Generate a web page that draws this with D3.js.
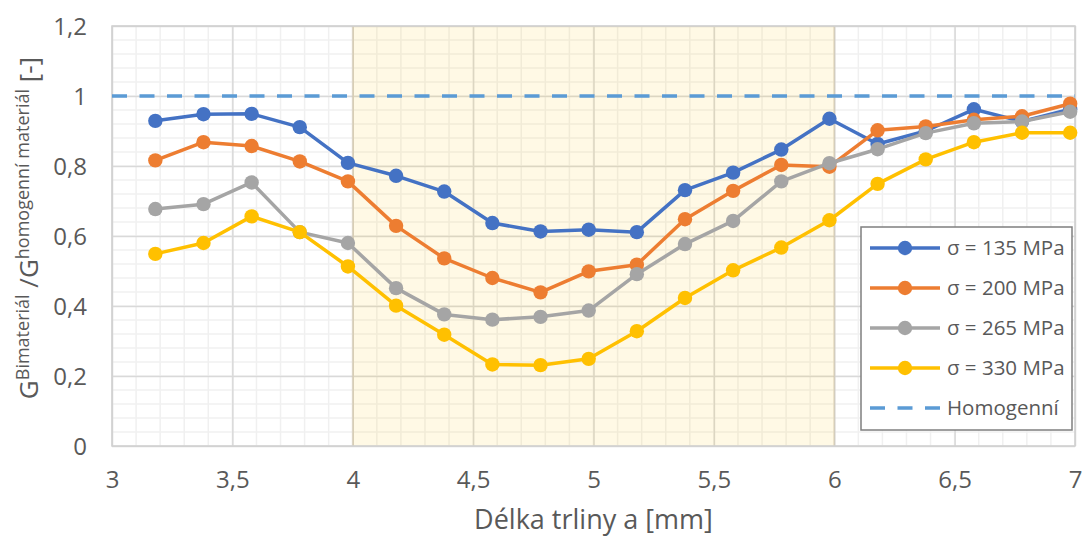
<!DOCTYPE html>
<html>
<head>
<meta charset="utf-8">
<script src="https://cdn.jsdelivr.net/npm/d3@7"></script>
<style>
  html, body { margin: 0; padding: 0; background: #fff; }
  svg { display: block; font-family: "Open Sans", "Noto Sans", sans-serif; }
</style>
</head>
<body>
<svg id="chart" width="1087" height="543"></svg>
<script>
// ---- data ----
const crackLength = [3.18, 3.38, 3.58, 3.78, 3.98, 4.18, 4.38, 4.58, 4.78, 4.98,
                     5.18, 5.38, 5.58, 5.78, 5.98, 6.18, 6.38, 6.58, 6.78, 6.98];
const s135 = [0.929, 0.948, 0.949, 0.911, 0.809, 0.772, 0.727, 0.637, 0.613, 0.618,
              0.611, 0.731, 0.781, 0.847, 0.935, 0.863, 0.900, 0.962, 0.927, 0.962];
const s200 = [0.816, 0.868, 0.857, 0.813, 0.756, 0.629, 0.536, 0.480, 0.439, 0.499,
              0.518, 0.648, 0.729, 0.803, 0.798, 0.902, 0.913, 0.932, 0.942, 0.978];
const s265 = [0.677, 0.691, 0.753, 0.611, 0.580, 0.451, 0.376, 0.361, 0.369, 0.387,
              0.491, 0.577, 0.643, 0.756, 0.808, 0.848, 0.894, 0.922, 0.927, 0.955];
const s330 = [0.549, 0.580, 0.656, 0.611, 0.513, 0.401, 0.318, 0.233, 0.231, 0.249,
              0.328, 0.423, 0.502, 0.567, 0.645, 0.749, 0.819, 0.868, 0.895, 0.895];
const homogenni = 1.0;
const seriesNames = ["σ = 135 MPa", "σ = 200 MPa", "σ = 265 MPa", "σ = 330 MPa"];
const seriesValues = [s135, s200, s265, s330];
const seriesColors = ["#4472c4", "#ed7d31", "#a5a5a5", "#ffc000"];
const homogenniName = "Homogenní";
const homogenniColor = "#5b9bd5";
const shadedRange = [4, 6];
const xTickValues = [3, 3.5, 4, 4.5, 5, 5.5, 6, 6.5, 7];
const yTickValues = [0, 0.2, 0.4, 0.6, 0.8, 1.0, 1.2];
const xTitle = "Délka trliny a [mm]";

// ---- layout ----
const svg = d3.select("#chart");
const L = 112, R = 1075, T = 26, B = 446;
const x = d3.scaleLinear().domain([3, 7]).range([L, R]);
const y = d3.scaleLinear().domain([0, 1.2]).range([B, T]);
const fmt = d => String(+d.toFixed(2)).replace(".", ",");
const textColor = "#595959";

svg.append("rect").attr("width", 1087).attr("height", 543).attr("fill", "#fff");

// minor gridlines
const gMinor = svg.append("g");
const xMinor = d3.range(3, 7.0001, 0.1);
const yMinor = d3.range(0, 1.2001, 0.04);
gMinor.selectAll("line.xm").data(xMinor).join("line")
  .attr("x1", d => x(d)).attr("x2", d => x(d)).attr("y1", T).attr("y2", B)
  .attr("stroke", "#f0f0f0").attr("stroke-width", 1.5);
gMinor.selectAll("line.ym").data(yMinor).join("line")
  .attr("x1", L).attr("x2", R).attr("y1", d => y(d)).attr("y2", d => y(d))
  .attr("stroke", "#f0f0f0").attr("stroke-width", 1.5);

// major gridlines via axes
const xGrid = d3.axisBottom(x).tickValues(xTickValues).tickSize(-(B - T)).tickFormat("");
const yGrid = d3.axisLeft(y).tickValues(yTickValues).tickSize(-(R - L)).tickFormat("");
svg.append("g").attr("transform", `translate(0,${B})`).call(xGrid)
  .call(g => g.select(".domain").remove())
  .selectAll("line").attr("stroke", "#d9d9d9").attr("stroke-width", 1.5);
svg.append("g").attr("transform", `translate(${L},0)`).call(yGrid)
  .call(g => g.select(".domain").remove())
  .selectAll("line").attr("stroke", "#d9d9d9").attr("stroke-width", 1.5);

// shaded region
svg.append("rect")
  .attr("x", x(shadedRange[0])).attr("y", T)
  .attr("width", x(shadedRange[1]) - x(shadedRange[0])).attr("height", B - T)
  .attr("fill", "#ffc000").attr("fill-opacity", 0.1);
svg.selectAll("line.sh").data(shadedRange).join("line")
  .attr("x1", d => x(d)).attr("x2", d => x(d)).attr("y1", T).attr("y2", B)
  .attr("stroke", "#c8b48a").attr("stroke-opacity", 0.3).attr("stroke-width", 2);

// plot border
svg.append("rect").attr("x", L).attr("y", T).attr("width", R - L).attr("height", B - T)
  .attr("fill", "none").attr("stroke", "#d0d0d0").attr("stroke-width", 1.5);

// axis labels
const xAxis = d3.axisBottom(x).tickValues(xTickValues).tickSize(0).tickPadding(0).tickFormat(fmt);
svg.append("g").attr("transform", `translate(0,${B})`).call(xAxis)
  .call(g => g.select(".domain").remove())
  .selectAll("text").attr("dy", null).attr("y", 42)
  .attr("font-size", 24).attr("fill", textColor).attr("font-family", "Open Sans");
const yAxis = d3.axisLeft(y).tickValues(yTickValues).tickSize(0).tickPadding(0).tickFormat(fmt);
svg.append("g").attr("transform", `translate(${L},0)`).call(yAxis)
  .call(g => g.select(".domain").remove())
  .selectAll("text").attr("x", -25).attr("dy", "0.35em")
  .attr("font-size", 24).attr("fill", textColor).attr("font-family", "Open Sans");

// x title
svg.append("text").attr("x", (L + R) / 2).attr("y", 529).attr("text-anchor", "middle")
  .attr("font-size", 27).attr("fill", textColor).text(xTitle);

// y title
const yt = svg.append("text").attr("transform", "translate(38,228) rotate(-90)")
  .attr("text-anchor", "middle").attr("fill", textColor).attr("font-size", 26);
yt.append("tspan").text("G");
yt.append("tspan").attr("font-size", 18).attr("dy", -9).text("Bimateriál");
yt.append("tspan").attr("dy", 9).text(" /G");
yt.append("tspan").attr("font-size", 18).attr("dy", -9).text("homogenní materiál");
yt.append("tspan").attr("dy", 9).text(" [-]");

// homogenní line
svg.append("line").attr("x1", L).attr("x2", R).attr("y1", y(homogenni)).attr("y2", y(homogenni))
  .attr("stroke", homogenniColor).attr("stroke-width", 3.5).attr("stroke-dasharray", "15,12.5");

// series
const line = d3.line().x((d, i) => x(crackLength[i])).y(d => y(d));
seriesValues.forEach((vals, k) => {
  const g = svg.append("g");
  g.append("path").datum(vals).attr("d", line).attr("fill", "none")
    .attr("stroke", seriesColors[k]).attr("stroke-width", 3.5).attr("stroke-linejoin", "round");
  g.selectAll("circle").data(vals).join("circle")
    .attr("cx", (d, i) => x(crackLength[i])).attr("cy", d => y(d)).attr("r", 7.2)
    .attr("fill", seriesColors[k]);
});

// legend
const lg = svg.append("g");
lg.append("rect").attr("x", 861).attr("y", 227).attr("width", 211).attr("height", 203)
  .attr("fill", "#fff").attr("stroke", "#7f7f7f").attr("stroke-width", 1.5);
const rows = seriesNames.map((n, i) => ({ name: n, color: seriesColors[i], dashed: false }))
  .concat([{ name: homogenniName, color: homogenniColor, dashed: true }]);
rows.forEach((r, i) => {
  const cy = 248 + i * 40;
  lg.append("line").attr("x1", 870).attr("x2", 940).attr("y1", cy).attr("y2", cy)
    .attr("stroke", r.color).attr("stroke-width", 3.5)
    .attr("stroke-dasharray", r.dashed ? "15,12.5" : null);
  if (!r.dashed) lg.append("circle").attr("cx", 905).attr("cy", cy).attr("r", 7.2).attr("fill", r.color);
  lg.append("text").attr("x", 947).attr("y", cy).attr("dy", "0.35em")
    .attr("font-size", 20.5).attr("fill", textColor).text(r.name);
});
</script>
</body>
</html>
